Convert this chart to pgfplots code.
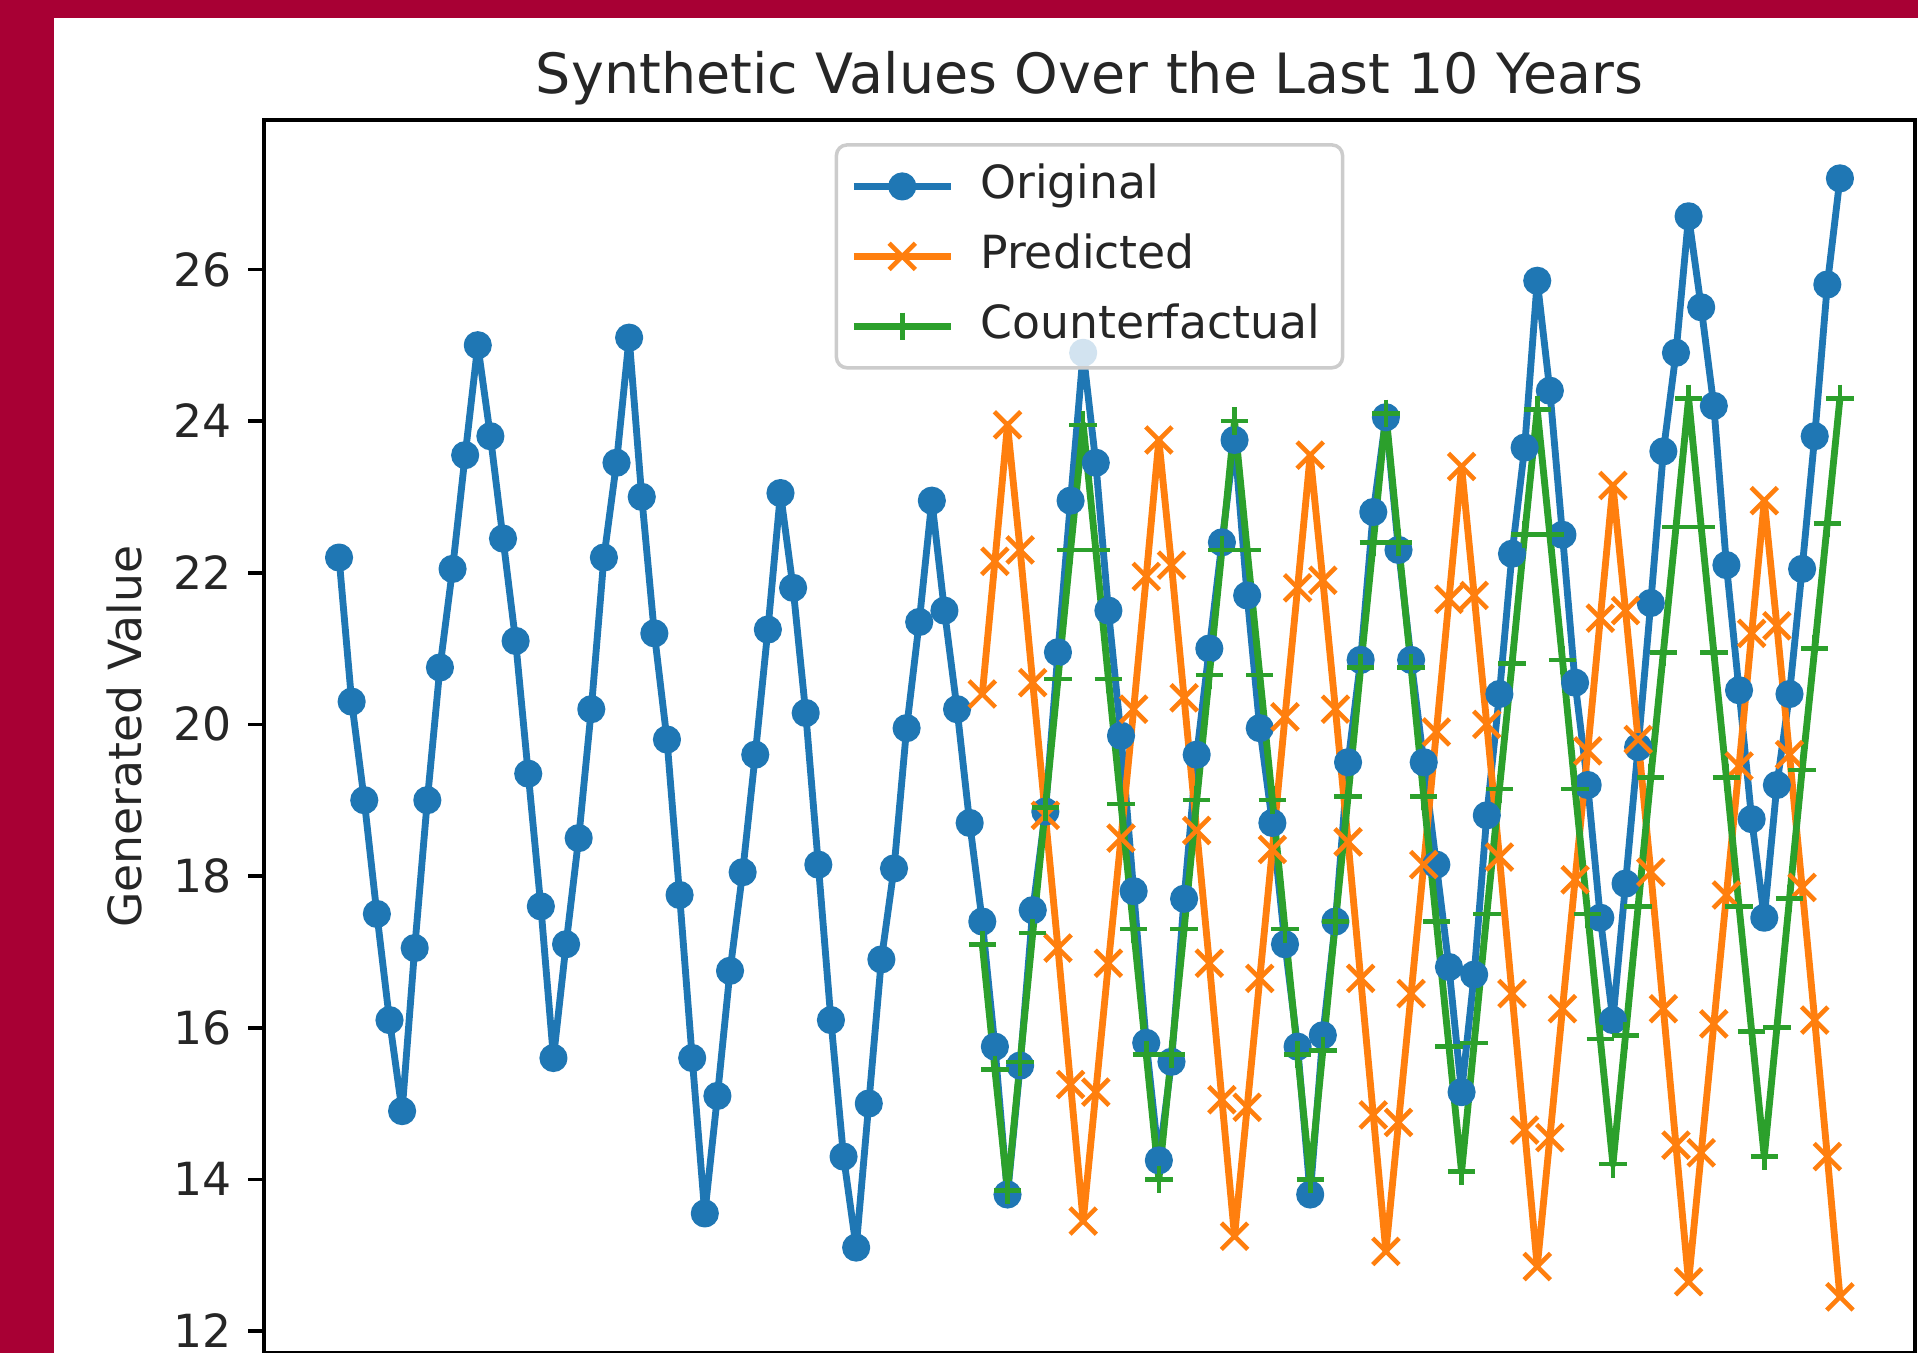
\documentclass[border=0pt]{standalone}
\usepackage{fontspec}
\setmainfont{DejaVu Sans}
\usepackage{pgfplots}
\usepackage{pgfplotstable}
\pgfplotsset{compat=1.18}
\definecolor{frame}{RGB}{168,0,52}
\definecolor{tabblue}{HTML}{1F77B4}
\definecolor{taborange}{HTML}{FF7F0E}
\definecolor{tabgreen}{HTML}{2CA02C}
\definecolor{legedge}{HTML}{CCCCCC}

\pgfplotstableread{
x y
0 22.2
1 20.3
2 19.0
3 17.5
4 16.1
5 14.9
6 17.05
7 19.0
8 20.75
9 22.05
10 23.55
11 25.0
12 23.8
13 22.45
14 21.1
15 19.35
16 17.6
17 15.6
18 17.1
19 18.5
20 20.2
21 22.2
22 23.45
23 25.1
24 23.0
25 21.2
26 19.8
27 17.75
28 15.6
29 13.55
30 15.1
31 16.75
32 18.05
33 19.6
34 21.25
35 23.05
36 21.8
37 20.15
38 18.15
39 16.1
40 14.3
41 13.1
42 15.0
43 16.9
44 18.1
45 19.95
46 21.35
47 22.95
48 21.5
49 20.2
50 18.7
51 17.4
52 15.75
53 13.8
54 15.5
55 17.55
56 18.85
57 20.95
58 22.95
59 24.9
60 23.45
61 21.5
62 19.85
63 17.8
64 15.8
65 14.25
66 15.55
67 17.7
68 19.6
69 21.0
70 22.4
71 23.75
72 21.7
73 19.95
74 18.7
75 17.1
76 15.75
77 13.8
78 15.9
79 17.4
80 19.5
81 20.85
82 22.8
83 24.05
84 22.3
85 20.85
86 19.5
87 18.15
88 16.8
89 15.15
90 16.7
91 18.8
92 20.4
93 22.25
94 23.65
95 25.85
96 24.4
97 22.5
98 20.55
99 19.2
100 17.45
101 16.1
102 17.9
103 19.7
104 21.6
105 23.6
106 24.9
107 26.7
108 25.5
109 24.2
110 22.1
111 20.45
112 18.75
113 17.45
114 19.2
115 20.4
116 22.05
117 23.8
118 25.8
119 27.2
}\original

\pgfplotstableread{
x y
51 20.4
52 22.15
53 23.95
54 22.3
55 20.55
56 18.8
57 17.05
58 15.25
59 13.45
60 15.15
61 16.85
62 18.5
63 20.2
64 21.95
65 23.75
66 22.1
67 20.35
68 18.6
69 16.85
70 15.05
71 13.25
72 14.95
73 16.65
74 18.35
75 20.1
76 21.8
77 23.55
78 21.9
79 20.2
80 18.45
81 16.65
82 14.85
83 13.05
84 14.75
85 16.45
86 18.15
87 19.9
88 21.65
89 23.4
90 21.7
91 20.0
92 18.25
93 16.45
94 14.65
95 12.85
96 14.55
97 16.25
98 17.95
99 19.65
100 21.4
101 23.15
102 21.5
103 19.8
104 18.05
105 16.25
106 14.45
107 12.65
108 14.35
109 16.05
110 17.75
111 19.45
112 21.2
113 22.95
114 21.3
115 19.6
116 17.85
117 16.1
118 14.3
119 12.45
}\predicted

\pgfplotstableread{
x y
51 17.1
52 15.45
53 13.85
54 15.55
55 17.25
56 18.9
57 20.6
58 22.3
59 23.95
60 22.3
61 20.6
62 18.95
63 17.3
64 15.65
65 14.0
66 15.65
67 17.3
68 19.0
69 20.65
70 22.3
71 24.0
72 22.3
73 20.65
74 19.0
75 17.3
76 15.65
77 14.0
78 15.7
79 17.4
80 19.05
81 20.75
82 22.4
83 24.1
84 22.4
85 20.75
86 19.05
87 17.4
88 15.75
89 14.1
90 15.8
91 17.5
92 19.15
93 20.8
94 22.5
95 24.15
96 22.5
97 20.85
98 19.15
99 17.5
100 15.85
101 14.2
102 15.9
103 17.6
104 19.3
105 20.95
106 22.6
107 24.3
108 22.6
109 20.95
110 19.3
111 17.6
112 15.95
113 14.3
114 16.0
115 17.7
116 19.4
117 21.0
118 22.65
119 24.3
}\counterfactual

\begin{document}
\begin{tikzpicture}
\fill[frame] (0mm,0mm) rectangle (191.8mm,135.3mm);
\fill[white] (5.4mm,0mm) rectangle (191.8mm,133.5mm);
\begin{axis}[
  at={(26.4mm,0mm)}, anchor=south west,
  scale only axis, width=165.1mm, height=123.3mm,
  xmin=-5.95, xmax=124.95, ymin=11.71, ymax=27.97,
  xtick=\empty,
  ytick={12,14,...,26},
  ytick pos=left,
  tick align=outside,
  major tick length=4.55pt,
  tick style={line width=1.04pt, black},
  axis line style={line width=1.04pt, black},
  /pgf/number format/assume math mode=true,
  yticklabel style={font=\fontsize{13}{15.6}\selectfont, text=black!85, xshift=-1pt},
  title={Synthetic Values Over the Last 10 Years},
  title style={at={(axis description cs:0.5,1)}, anchor=base, yshift=1.6pt,
    font=\fontsize{15.8}{19}\selectfont, text=black!85},
  ylabel={Generated Value},
  every axis y label/.style={at={(axis description cs:-0.0745,0.5)}, rotate=90, anchor=base,
    font=\fontsize{13}{15.6}\selectfont, text=black!85},
  legend style={at={(axis description cs:0.5,1)}, anchor=north, yshift=-6.6pt,
    draw=legedge, line width=1pt, rounded corners=3pt, fill=white, fill opacity=0.8, text opacity=1,
    font=\fontsize{13}{15.6}\selectfont, text=black!85,
    inner xsep=4pt, inner ysep=3pt, row sep=2.3pt, column sep=5pt,
    nodes={inner sep=2.5pt, text height=9.8pt, text depth=2.8pt}},
  legend cell align=left,
  legend image code/.code={\draw[mark repeat=2,mark phase=2,#1] plot coordinates {(0pt,0pt)(13.75pt,0pt)(27.5pt,0pt)};},
  legend image post style={fill opacity=1},
]
\addplot[tabblue, line width=1.95pt, line join=round, mark=*, mark size=3.5pt,
  mark options={solid, fill=tabblue, draw=tabblue, line width=1pt}] table[x=x,y=y] {\original};
\addlegendentry{Original}
\addplot[taborange, line width=1.95pt, line join=round, mark=x, mark size=5.3pt,
  mark options={solid, line width=1.3pt}] table[x=x,y=y] {\predicted};
\addlegendentry{Predicted}
\addplot[tabgreen, line width=1.95pt, line join=round, mark=+, mark size=3.9pt,
  mark options={solid, line width=1.3pt}] table[x=x,y=y] {\counterfactual};
\addlegendentry{Counterfactual}
\end{axis}
\pgfresetboundingbox
\path[use as bounding box] (0mm,0mm) rectangle (191.8mm,135.3mm);
\end{tikzpicture}
\end{document}
